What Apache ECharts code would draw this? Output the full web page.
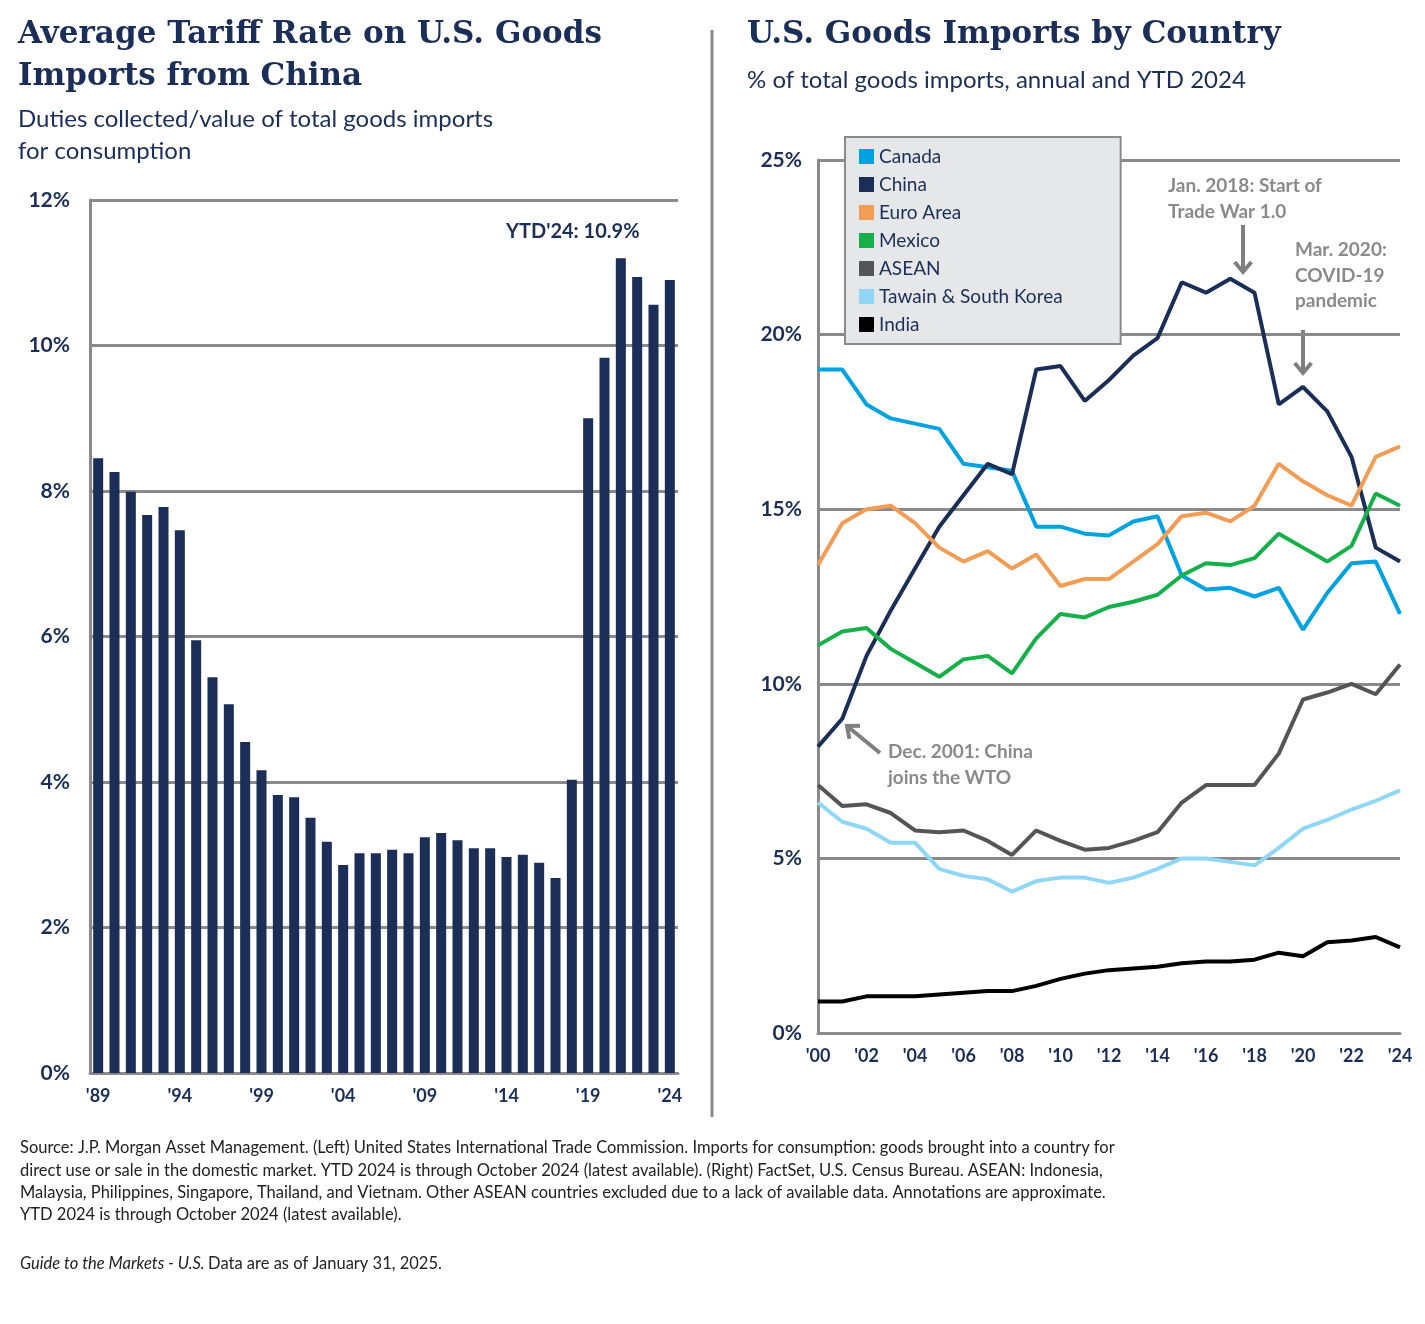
<!DOCTYPE html>
<html>
<head>
<meta charset="UTF-8">
<script src="https://cdn.jsdelivr.net/npm/echarts@6/dist/echarts.min.js"></script>
<style>
  body { margin: 0; background: #fff; }
  #chart { width: 1425px; height: 1324px; }
</style>
</head>
<body>
<div id="chart"></div>
<script>
// left: tariff rate, 1989-2024
var tariffYears = [];
for (var y = 1989; y <= 2024; y++) tariffYears.push("'" + String(y).slice(2));
var tariffRate = [8.45, 8.26, 7.99, 7.67, 7.78, 7.46, 5.95, 5.44, 5.07, 4.55, 4.16, 3.82, 3.79, 3.51, 3.18, 2.86,
  3.02, 3.02, 3.07, 3.02, 3.24, 3.30, 3.20, 3.09, 3.09, 2.97, 3.00, 2.89, 2.68, 4.03, 9.00, 9.83, 11.2, 10.94, 10.56, 10.9];

// right: share of imports, 2000-2024
var importYears = [];
for (var y2 = 2000; y2 <= 2024; y2++) importYears.push("'" + String(y2).slice(2));
var canada = [19.0, 19.0, 18.0, 17.6, 17.45, 17.3, 16.3, 16.2, 16.1, 14.5, 14.5, 14.3, 14.25, 14.65, 14.8, 13.1, 12.7, 12.75, 12.5, 12.75, 11.55, 12.6, 13.45, 13.5, 12.0];
var china = [8.2, 9.0, 10.8, 12.1, 13.3, 14.5, 15.4, 16.3, 16.0, 19.0, 19.1, 18.1, 18.7, 19.4, 19.9, 21.5, 21.2, 21.6, 21.2, 18.0, 18.5, 17.8, 16.5, 13.9, 13.5];
var euroArea = [13.4, 14.6, 15.0, 15.1, 14.6, 13.9, 13.5, 13.8, 13.3, 13.7, 12.8, 13.0, 13.0, 13.5, 14.0, 14.8, 14.9, 14.65, 15.1, 16.3, 15.8, 15.4, 15.1, 16.5, 16.8];
var mexico = [11.1, 11.5, 11.6, 11.0, 10.6, 10.2, 10.7, 10.8, 10.3, 11.3, 12.0, 11.9, 12.2, 12.35, 12.55, 13.1, 13.45, 13.4, 13.6, 14.3, 13.9, 13.5, 13.95, 15.45, 15.1];
var asean = [7.1, 6.5, 6.55, 6.3, 5.8, 5.75, 5.8, 5.5, 5.1, 5.8, 5.5, 5.25, 5.3, 5.5, 5.75, 6.6, 7.1, 7.1, 7.1, 8.0, 9.55, 9.75, 10.0, 9.7, 10.55];
var taiwanKorea = [6.6, 6.05, 5.85, 5.45, 5.45, 4.7, 4.5, 4.4, 4.05, 4.35, 4.45, 4.45, 4.3, 4.45, 4.7, 5.0, 5.0, 4.9, 4.8, 5.3, 5.85, 6.1, 6.4, 6.65, 6.95];
var india = [0.9, 0.9, 1.05, 1.05, 1.05, 1.1, 1.15, 1.2, 1.2, 1.35, 1.55, 1.7, 1.8, 1.85, 1.9, 2.0, 2.05, 2.05, 2.1, 2.3, 2.2, 2.6, 2.65, 2.75, 2.45];

var navy = '#1b2e57';
var gridGray = '#8a8a8c';
var font = 'Lato';

function line(name, data, color) {
  return { name: name, type: 'line', xAxisIndex: 1, yAxisIndex: 1, data: data, symbol: 'none',
    lineStyle: { color: color, width: 4 }, itemStyle: { color: color } };
}

function arrow(x1, y1, x2, y2) {
  var a = Math.atan2(y2 - y1, x2 - x1), h = 13;
  return [
    { type: 'line', shape: { x1: x1, y1: y1, x2: x2, y2: y2 }, style: { stroke: '#7f7f7f', lineWidth: 4 } },
    { type: 'polyline', shape: { points: [
      [x2 - h * Math.cos(a - 0.7), y2 - h * Math.sin(a - 0.7)], [x2, y2],
      [x2 - h * Math.cos(a + 0.7), y2 - h * Math.sin(a + 0.7)]] },
      style: { stroke: '#7f7f7f', lineWidth: 4, fill: null } }
  ];
}

function txt(x, y, text, size, color, weight, family) {
  return { type: 'text', left: x, top: y, style: { text: text, fontSize: size, fill: color,
    fontWeight: weight || 'normal', fontFamily: family || font, lineHeight: size * 1.35 } };
}

var footer = 'Source: J.P. Morgan Asset Management. (Left) United States International Trade Commission. Imports for consumption: goods brought into a country for\n' +
  'direct use or sale in the domestic market. YTD 2024 is through October 2024 (latest available). (Right) FactSet, U.S. Census Bureau. ASEAN: Indonesia,\n' +
  'Malaysia, Philippines, Singapore, Thailand, and Vietnam. Other ASEAN countries excluded due to a lack of available data. Annotations are approximate.\n' +
  'YTD 2024 is through October 2024 (latest available).';

var graphics = [
  { type: 'line', shape: { x1: 712, y1: 30, x2: 712, y2: 1117 }, style: { stroke: gridGray, lineWidth: 3 } },
  txt(18, 14, 'Average Tariff Rate on U.S. Goods\nImports from China', 31, navy, 'bold', 'DejaVu Serif'),
  txt(18, 103, 'Duties collected/value of total goods imports\nfor consumption', 24, navy),
  txt(747, 14, 'U.S. Goods Imports by Country', 31, navy, 'bold', 'DejaVu Serif'),
  txt(747, 64, '% of total goods imports, annual and YTD 2024', 24, navy),
  txt(506, 218, "YTD'24: 10.9%", 20, navy, 'bold'),
  txt(1168, 173, 'Jan. 2018: Start of\nTrade War 1.0', 19, '#8a8a8c', 'bold'),
  txt(1295, 237, 'Mar. 2020:\nCOVID-19\npandemic', 19, '#8a8a8c', 'bold'),
  txt(888, 739, 'Dec. 2001: China\njoins the WTO', 19, '#8a8a8c', 'bold'),
  txt(20, 1137, footer, 16.5, '#222'),
  { type: 'text', left: 20, top: 1255, style: { rich: {
      i: { fontStyle: 'italic', fontSize: 16.5, fill: '#222', fontFamily: font },
      n: { fontSize: 16.5, fill: '#222', fontFamily: font } },
    text: '{i|Guide to the Markets - U.S.} {n|Data are as of January 31, 2025.}' } }
].concat(arrow(1243, 225, 1243, 272), arrow(1303, 330, 1303, 373), arrow(880, 753, 847, 726));

var chart = echarts.init(document.getElementById('chart'));
chart.setOption({
  animation: false,
  backgroundColor: '#fff',
  textStyle: { fontFamily: font },
  grid: [
    { left: 90, top: 200, width: 588, height: 873 },
    { left: 818, top: 160, width: 582, height: 873 }
  ],
  legend: {
    left: 845, top: 137, orient: 'vertical', width: 268,
    padding: [10, 58, 10, 14], itemGap: 9, itemWidth: 15, itemHeight: 15, icon: 'rect',
    backgroundColor: '#e6e7e9', borderColor: gridGray, borderWidth: 2,
    textStyle: { fontSize: 19, color: navy, fontFamily: font },
    data: ['Canada', 'China', 'Euro Area', 'Mexico', 'ASEAN', 'Tawain & South Korea', 'India']
  },
  xAxis: [
    { type: 'category', gridIndex: 0, data: tariffYears, boundaryGap: true,
      axisLine: { lineStyle: { color: gridGray, width: 3 } }, axisTick: { show: false },
      axisLabel: { interval: 4, color: navy, fontWeight: 'bold', fontSize: 18, margin: 14 } },
    { type: 'category', gridIndex: 1, data: importYears, boundaryGap: false,
      axisLine: { lineStyle: { color: gridGray, width: 3 } }, axisTick: { show: false },
      axisLabel: { interval: 1, color: navy, fontWeight: 'bold', fontSize: 18, margin: 14 } }
  ],
  yAxis: [
    { type: 'value', gridIndex: 0, min: 0, max: 12, interval: 2,
      axisLine: { show: true, lineStyle: { color: gridGray, width: 3 } },
      splitLine: { lineStyle: { color: gridGray, width: 3 } },
      axisLabel: { formatter: '{value}%', color: navy, fontWeight: 'bold', fontSize: 21, margin: 20 } },
    { type: 'value', gridIndex: 1, min: 0, max: 25, interval: 5,
      axisLine: { show: true, lineStyle: { color: gridGray, width: 3 } },
      splitLine: { lineStyle: { color: gridGray, width: 3 } },
      axisLabel: { formatter: '{value}%', color: navy, fontWeight: 'bold', fontSize: 21, margin: 16 } }
  ],
  series: [
    { name: 'Tariff', type: 'bar', xAxisIndex: 0, yAxisIndex: 0, data: tariffRate,
      barWidth: 10, itemStyle: { color: navy } },
    line('Canada', canada, '#00a3e0'),
    line('China', china, navy),
    line('Euro Area', euroArea, '#f29d55'),
    line('Mexico', mexico, '#16b04b'),
    line('ASEAN', asean, '#555557'),
    line('Tawain & South Korea', taiwanKorea, '#8fd6f7'),
    line('India', india, '#000000')
  ],
  graphic: graphics
});
</script>
</body>
</html>
